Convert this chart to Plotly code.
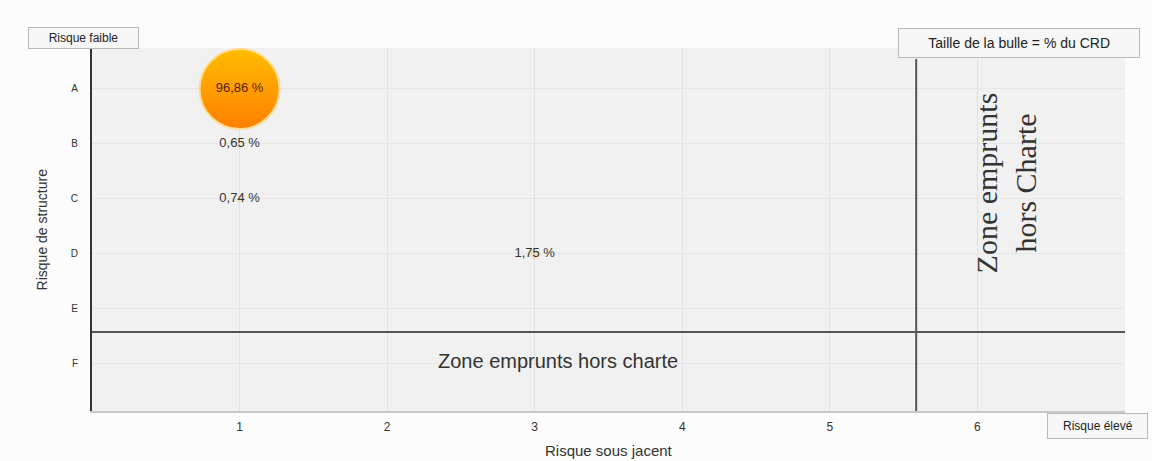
import plotly.graph_objects as go

# ---- data ----
risque_sous_jacent = [1, 1, 1, 3]
risque_structure = [1, 2, 3, 4]          # A=1 ... F=6
part_crd = [96.86, 0.65, 0.74, 1.75]
labels = ["96,86 %", "0,65 %", "0,74 %", "1,75 %"]
x_ticks = [1, 2, 3, 4, 5, 6]
y_ticks = [1, 2, 3, 4, 5, 6]
y_ticktext = ["A", "B", "C", "D", "E", "F"]

# limit of the charter zone
limite_x = 5.585
limite_y = 5.42

max_diam = 80
sizeref = 2.0 * max(part_crd) / (max_diam ** 2)

fig = go.Figure()
fig.add_trace(go.Scatter(
    x=risque_sous_jacent, y=risque_structure,
    mode="markers",
    marker=dict(size=part_crd, sizemode="area", sizeref=sizeref,
                color="#ffbd00",
                gradient=dict(type="vertical", color="#ff7f00"),
                line=dict(color="#ffdc90", width=2),
                opacity=[1, 0.2, 0.2, 0.2]),
    hoverinfo="skip", showlegend=False, cliponaxis=False,
))
fig.add_trace(go.Scatter(
    x=risque_sous_jacent, y=risque_structure,
    mode="text",
    text=labels, textposition="middle center",
    textfont=dict(family="Liberation Sans, Arial", size=13,
                  color=["#5a2000", "#333333", "#333333", "#333333"]),
    hoverinfo="skip", showlegend=False, cliponaxis=False,
))

fig.add_shape(type="line", xref="x", yref="y", x0=0, x1=7, y0=limite_y, y1=limite_y,
              line=dict(color="#555555", width=2))
fig.add_shape(type="line", xref="x", yref="paper", x0=limite_x, x1=limite_x, y0=0, y1=0.97,
              line=dict(color="#555555", width=2))

fig.add_annotation(x=3.16, y=5.95, xref="x", yref="y",
                   text="Zone emprunts hors charte", showarrow=False,
                   font=dict(family="Liberation Sans, Arial", size=20, color="#333333"))
fig.add_annotation(x=6.2, y=2.7, xref="x", yref="y",
                   text="Zone emprunts<br>hors Charte", showarrow=False, textangle=-90,
                   font=dict(family="Liberation Serif, Times New Roman", size=30, color="#333333"))

# axis titles
fig.add_annotation(text="Risque sous jacent", xref="paper", yref="paper", x=0.5, y=-0.108,
                   xanchor="center", yanchor="middle", showarrow=False,
                   font=dict(family="Liberation Sans, Arial", size=15, color="#333333"))
fig.add_annotation(text="Risque de structure", xref="paper", yref="paper", x=-0.0485, y=0.5,
                   xanchor="center", yanchor="middle", showarrow=False, textangle=-90,
                   font=dict(family="Liberation Sans, Arial", size=14, color="#333333"))

box = dict(showarrow=False, bordercolor="#b8b8b8", borderwidth=1, bgcolor="#f7f7f7")
fig.add_annotation(text="\u00a0" * 5 + "Risque faible" + "\u00a0" * 5, xref="paper", yref="paper",
                   x=-0.062, y=1.058, xanchor="left", yanchor="top", borderpad=3,
                   font=dict(family="Liberation Sans, Arial", size=12, color="#222222"), **box)
fig.add_annotation(text="\u00a0" * 6 + "Taille de la bulle = % du CRD" + "\u00a0" * 6,
                   xref="paper", yref="paper",
                   x=1.0145, y=1.055, xanchor="right", yanchor="top", borderpad=6,
                   font=dict(family="Liberation Sans, Arial", size=14, color="#222222"), **box)
fig.add_annotation(text="\u00a0" * 3 + "Risque élevé" + "\u00a0" * 3, xref="paper", yref="paper",
                   x=1.022, y=-0.006, xanchor="right", yanchor="top", borderpad=5,
                   font=dict(family="Liberation Sans, Arial", size=12, color="#222222"), **box)

fig.update_layout(
    width=1152, height=461,
    margin=dict(l=92, r=27, t=48, b=50),
    paper_bgcolor="#fcfcfc", plot_bgcolor="#f1f1f1",
    font=dict(family="Liberation Sans, Arial", size=11, color="#333333"),
    xaxis=dict(range=[0, 7], tickvals=x_ticks, showgrid=True, gridcolor="#e2e2e2",
               zeroline=False, showline=True, linecolor="#c8c8c8", linewidth=2,
               ticks="", tickfont=dict(size=12), ticklabelstandoff=4, automargin=False),
    yaxis=dict(range=[6.855, 0.255], tickvals=y_ticks, ticktext=y_ticktext,
               showgrid=True, gridcolor="#e6e6e6", zeroline=False,
               showline=True, linecolor="#333333", linewidth=2, ticks="",
               tickfont=dict(size=10), ticklabelstandoff=10, automargin=False),
)

fig.write_html("out.html")
